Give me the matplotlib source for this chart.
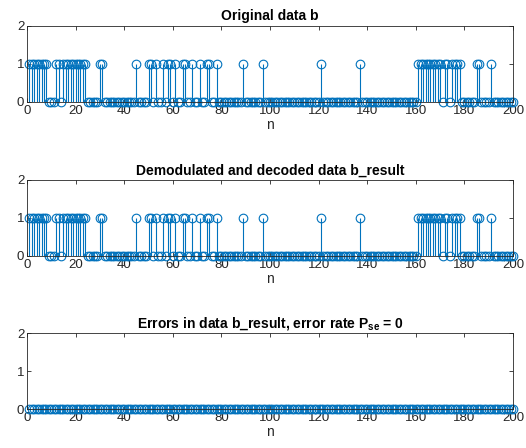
import numpy as np
import matplotlib
matplotlib.use("Agg")
import matplotlib.pyplot as plt

plt.rcParams['font.family'] = ['Liberation Sans', 'DejaVu Sans']
plt.rcParams['mathtext.fontset'] = 'custom'
plt.rcParams['mathtext.rm'] = 'Liberation Sans'
plt.rcParams['mathtext.bf'] = 'Liberation Sans:bold'

# sample index and transmitted bits
n = np.arange(1, 201)
ones_idx = [1, 2, 3, 4, 5, 6, 7, 8, 12, 13, 15, 16, 17, 18, 19, 20, 21, 22, 23, 24,
            30, 31, 45, 50, 51, 53, 56, 58, 59, 61, 64, 65, 68, 71, 74, 75, 78, 89, 97,
            121, 137, 161, 162, 163, 164, 165, 166, 167, 168, 169, 170, 172, 173,
            175, 176, 177, 178, 185, 186, 191]
b = np.zeros(200, dtype=int)
b[np.array(ones_idx) - 1] = 1
b_result = b.copy()
errors = np.abs(b - b_result)
error_rate = errors.mean()

titles = ['Original data b',
          'Demodulated and decoded data b_result',
          r'Errors in data b_result, error rate $\mathbf{P_{se}}$ = %g' % error_rate]
series = [b, b_result, errors]

blue = '#0072BD'
axcol = '#262626'

fig = plt.figure(figsize=(5.26, 4.48), dpi=100)
bottoms = [1 - 102 / 448, 1 - 256 / 448, 1 - 409 / 448]
for bot, title, y in zip(bottoms, titles, series):
    ax = fig.add_axes([27 / 526, bot, 486 / 526, 76 / 448])
    ml, sl, bl = ax.stem(n, y, linefmt='-', markerfmt='o', basefmt='-')
    plt.setp(sl, color=blue, linewidth=0.8)
    plt.setp(ml, markeredgecolor=blue, markerfacecolor='none',
             markersize=6.2, markeredgewidth=0.8, clip_on=False)
    plt.setp(bl, color=axcol, linewidth=0.6)
    ax.set_xlim(0, 200)
    ax.set_ylim(0, 2)
    ax.set_xticks(np.arange(0, 201, 20))
    ax.set_yticks([0, 1, 2])
    ax.tick_params(direction='in', top=True, right=True, length=3,
                   width=0.6, labelsize=9.5, colors=axcol, pad=2)
    for s in ax.spines.values():
        s.set_color(axcol)
        s.set_linewidth(0.6)
    ax.set_title(title, fontsize=10, fontweight='bold', pad=4)
    ax.set_xlabel('n', fontsize=10, labelpad=1, color=axcol)

fig.savefig('out.png', dpi=100)
